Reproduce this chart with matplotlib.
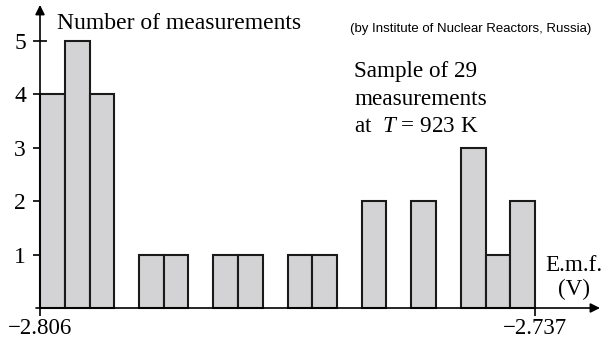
import numpy as np
import matplotlib
matplotlib.use("Agg")
import matplotlib.pyplot as plt

plt.rcParams['font.family'] = ['Liberation Serif', 'DejaVu Serif']
plt.rcParams['mathtext.fontset'] = 'custom'
plt.rcParams['mathtext.rm'] = 'Liberation Serif'
plt.rcParams['mathtext.it'] = 'Liberation Serif:italic'

# Data
emf_min = -2.806
emf_max = -2.737
n_bins = 20
counts = [4, 5, 4, 0, 1, 1, 0, 1, 1, 0, 1, 1, 0, 2, 0, 2, 0, 3, 1, 2]
y_ticks = [1, 2, 3, 4, 5]
x_tick_vals = [-2.806, -2.737]
x_tick_labels = ["\u22122.806", "\u22122.737"]

W, H = 602, 341
fig = plt.figure(figsize=(W / 100, H / 100), dpi=100)

# axes: x from px 40 to 535, y=0 at px 308, y=5 at px 41
ax = fig.add_axes([40 / W, (H - 308) / H, 495 / W, (308 - 41) / H])
ax.set_xlim(emf_min, emf_max)
ax.set_ylim(0, 5)

edges = np.linspace(emf_min, emf_max, n_bins + 1)
width = edges[1] - edges[0]
for left, c in zip(edges[:-1], counts):
    if c > 0:
        ax.bar(left, c, width=width, align='edge', color='#d3d3d5',
               edgecolor='#1a1a1a', linewidth=1.5, zorder=2, clip_on=False)

for s in ax.spines.values():
    s.set_visible(False)

ax.set_yticks(y_ticks)
ax.set_yticklabels([str(v) for v in y_ticks], fontsize=17)
ax.set_xticks(x_tick_vals)
ax.set_xticklabels(x_tick_labels, fontsize=16.5)
ax.tick_params(axis='y', direction='inout', length=10, width=1.2, pad=5)
ax.tick_params(axis='x', direction='inout', length=12, width=1.2, pad=1.5)

# Axis arrows
ax.annotate('', xy=(0, 1.135), xycoords='axes fraction', xytext=(0, 0),
            textcoords='axes fraction',
            arrowprops=dict(arrowstyle='-|>', lw=1.2, color='k', mutation_scale=14,
                            shrinkA=0, shrinkB=0), annotation_clip=False)
ax.annotate('', xy=((600 - 40) / 495, 0), xycoords='axes fraction',
            xytext=(-4 / 495, 0), textcoords='axes fraction',
            arrowprops=dict(arrowstyle='-|>', lw=1.2, color='k', mutation_scale=14,
                            shrinkA=0, shrinkB=0), annotation_clip=False)

def px(x, y):
    return x / W, 1 - y / H

fig.text(*px(57, 29), "Number of measurements", fontsize=17, va='baseline', ha='left')
fig.text(*px(591, 32), "(by Institute of Nuclear Reactors, Russia)", fontsize=9.5,
         family=['Liberation Sans', 'DejaVu Sans'], va='baseline', ha='right')
fig.text(*px(354, 77), "Sample of 29", fontsize=16.7, va='baseline', ha='left')
fig.text(*px(354, 105), "measurements", fontsize=16.7, va='baseline', ha='left')
fig.text(*px(354, 132), "at  $T$ = 923 K", fontsize=16.7, va='baseline', ha='left')
fig.text(*px(574, 271), "E.m.f.", fontsize=16.7, va='baseline', ha='center')
fig.text(*px(574, 295), "(V)", fontsize=16.7, va='baseline', ha='center')

fig.savefig("out.png", dpi=100)
